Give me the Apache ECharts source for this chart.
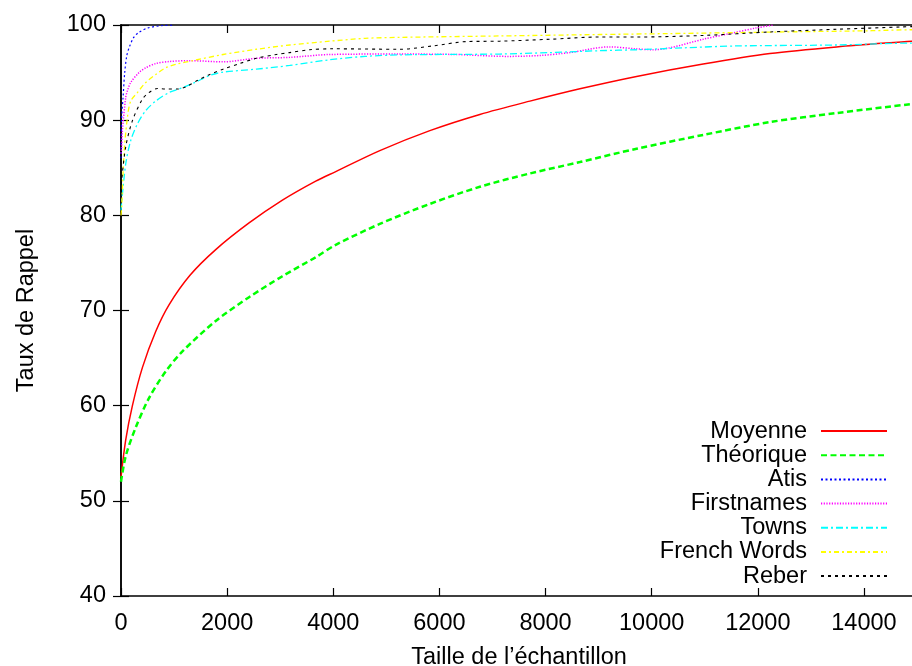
<!DOCTYPE html>
<html>
<head>
<meta charset="utf-8">
<script src="https://cdn.jsdelivr.net/npm/echarts@6/dist/echarts.min.js"></script>
<style>
html,body{margin:0;padding:0;background:#fff;}
#chart{width:912px;height:666px;}
</style>
</head>
<body>
<div id="chart"></div>
<script>
// ---- Data (x = sample size, y = recall rate) ----
var seriesNames = ["Moyenne", "Théorique", "Atis", "Firstnames", "Towns", "French Words", "Reber"];
var xTicks = [0, 2000, 4000, 6000, 8000, 10000, 12000, 14000];
var yTicks = [40, 50, 60, 70, 80, 90, 100];

var moyenne = [[0,52.5],[89,56.4],[215,60.0],[403,64.0],[654,67.8],[905,70.6],[1300,73.7],[1785,76.4],[2413,79.2],[3042,81.6],[3670,83.6],[4047,84.6],[4877,86.8],[5820,88.9],[6762,90.6],[7705,92.0],[8647,93.3],[9715,94.6],[10971,95.9],[12228,97.0],[13485,97.7],[14904,98.3],[15000,98.35]];
var theorique = [[0,52.0],[89,54.7],[277,57.7],[528,60.8],[843,63.6],[1157,65.7],[1785,68.9],[2413,71.4],[3042,73.6],[3670,75.6],[4047,76.9],[4877,79.1],[5820,81.2],[6762,83.0],[7705,84.4],[8647,85.6],[9715,87.0],[10971,88.45],[12228,89.8],[13485,90.75],[14904,91.7],[15000,91.75]];
var atis = [[0,86],[10,90],[40,92.5],[70,95],[110,96.8],[165,97.8],[240,98.7],[330,99.2],[510,99.7],[800,99.95],[1000,100]];
var firstnames = [[0,86.5],[13,87.2],[26,88.9],[89,92.4],[121,93.1],[183,93.96],[339,95.0],[466,95.5],[654,95.95],[905,96.16],[1300,96.25],[1923,96.13],[2552,96.5],[3180,96.6],[3934,96.9],[5253,96.95],[6300,96.9],[7300,96.7],[7900,96.8],[8458,97.1],[9200,97.7],[9700,97.5],[10028,97.4],[10343,97.6],[10971,98.5],[11474,99.1],[11977,99.7],[12300,100]];
var towns = [[0,80.5],[13,81.4],[89,85.4],[183,87.85],[309,89.6],[466,91.0],[654,92.0],[905,92.9],[1157,93.4],[1408,94.0],[1672,94.7],[1923,95.05],[2552,95.36],[3180,95.75],[3934,96.35],[4600,96.7],[5253,96.86],[7138,96.95],[8081,97.1],[9024,97.3],[9715,97.4],[10600,97.6],[11600,97.8],[13485,97.9],[14904,98.1],[15000,98.1]];
var frenchWords = [[0,80],[13,80.9],[57,86.5],[121,90.3],[183,92.0],[309,92.9],[466,93.96],[654,94.8],[843,95.5],[1093,95.95],[1350,96.25],[1923,96.9],[2552,97.45],[3180,97.9],[3934,98.3],[4600,98.6],[5253,98.7],[7138,98.85],[9024,99.0],[10343,99.1],[12200,99.25],[14150,99.4],[14904,99.5],[15000,99.5]];
var reber = [[0,82.5],[13,83.7],[89,87.2],[215,89.95],[403,92.2],[528,92.9],[686,93.33],[843,93.27],[1063,93.27],[1220,93.5],[1450,94.2],[1672,94.8],[1923,95.36],[2237,95.95],[2552,96.5],[2929,96.9],[3180,97.1],[3557,97.4],[3990,97.5],[5253,97.45],[5876,97.8],[6511,98.26],[7138,98.3],[8081,98.5],[9024,98.74],[9715,98.74],[10971,98.9],[12228,99.27],[13485,99.55],[14734,99.8],[15000,99.85]];

var FONT = "Liberation Sans, Arial, Helvetica, sans-serif";
var FS = 23.5;

function mk(name, data, color, width, type) {
  return {
    name: name, type: 'line', data: data, smooth: 0.3,
    showSymbol: false, symbol: 'none',
    lineStyle: { color: color, width: width, type: type },
    itemStyle: { color: color },
    emphasis: { disabled: true }, animation: false
  };
}

var chart = echarts.init(document.getElementById('chart'), null, { renderer: 'canvas' });
var axisCommon = {
  axisLine: { show: true, lineStyle: { color: '#000', width: 1.5 } },
  axisTick: { show: true, inside: true, length: 8, lineStyle: { color: '#000', width: 1.2 } },
  splitLine: { show: false }
};
function plain(v) { return String(v); }
chart.setOption({
  backgroundColor: '#fff',
  animation: false,
  textStyle: { fontFamily: FONT },
  grid: { left: 121, right: -5, top: 25, bottom: 70, containLabel: false, outerBoundsMode: 'none' },
  legend: {
    orient: 'vertical', right: 24, top: 419, align: 'right', padding: 0,
    itemGap: 0, itemWidth: 66, itemHeight: 10,
    itemStyle: { color: 'rgba(0,0,0,0)', borderColor: 'rgba(0,0,0,0)', borderWidth: 0, opacity: 0 },
    textStyle: { fontSize: FS, color: '#000', fontFamily: FONT, lineHeight: 24.17, padding: [0, 9, 0, 0] },
    data: seriesNames, selectedMode: false
  },
  xAxis: [
    Object.assign({
      type: 'value', min: xTicks[0], max: 15000, interval: 2000, position: 'bottom',
      name: "Taille de l’échantillon", nameLocation: 'middle', nameGap: 50,
      nameTextStyle: { fontSize: FS, color: '#000', fontFamily: FONT },
      axisLabel: { fontSize: FS, color: '#000', margin: 16, showMaxLabel: false, fontFamily: FONT, formatter: plain }
    }, axisCommon),
    Object.assign({
      type: 'value', min: xTicks[0], max: 15000, interval: 2000, position: 'top',
      axisLabel: { show: false }
    }, axisCommon)
  ],
  yAxis: [
    Object.assign({
      type: 'value', min: yTicks[0], max: yTicks[yTicks.length - 1], interval: 10, position: 'left',
      name: "Taux de Rappel", nameLocation: 'middle', nameGap: 82, nameRotate: 90,
      nameTextStyle: { fontSize: FS, color: '#000', fontFamily: FONT },
      axisLabel: { fontSize: FS, color: '#000', margin: 15, fontFamily: FONT, formatter: plain }
    }, axisCommon),
    Object.assign({
      type: 'value', min: yTicks[0], max: yTicks[yTicks.length - 1], interval: 10, position: 'right',
      axisLabel: { show: false }
    }, axisCommon)
  ],
  series: [
    mk(seriesNames[0], moyenne, '#ff0000', 1.5, 'solid'),
    mk(seriesNames[1], theorique, '#00ff00', 2.5, [6, 3.5]),
    mk(seriesNames[2], atis, '#0000ff', 1.2, [2, 2.5]),
    mk(seriesNames[3], firstnames, '#ff00ff', 1.5, [1.2, 1.5]),
    mk(seriesNames[4], towns, '#00ffff', 1.3, [7, 3, 2, 3]),
    mk(seriesNames[5], frenchWords, '#ffff00', 1.3, [5, 3, 2, 3]),
    mk(seriesNames[6], reber, '#000000', 1.1, [3, 4])
  ]
});
</script>
</body>
</html>
